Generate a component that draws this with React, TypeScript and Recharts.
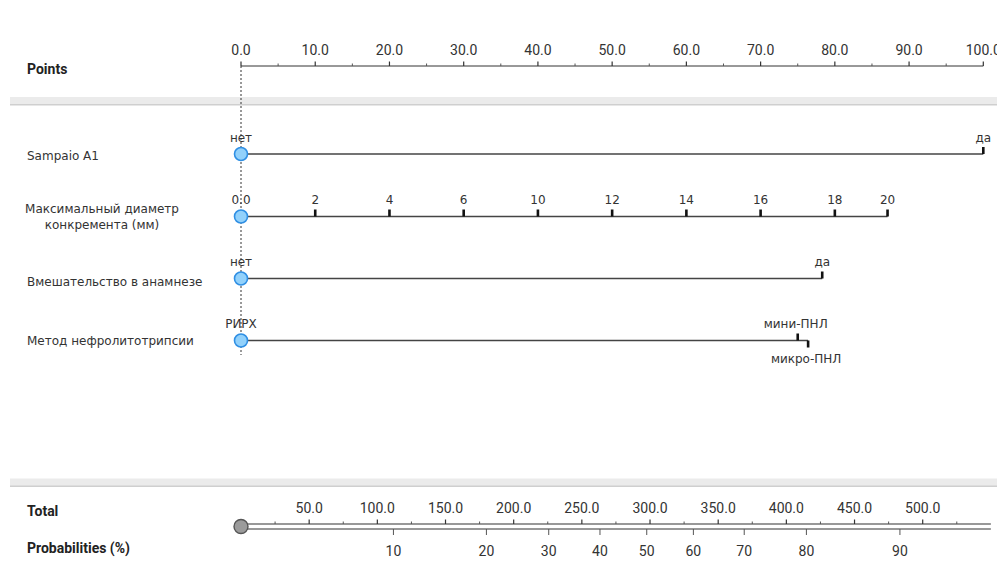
import { ScatterChart, Scatter, XAxis, YAxis, ReferenceArea } from 'recharts';

// nomogram scale (points)
const pointTicks = [0, 10, 20, 30, 40, 50, 60, 70, 80, 90, 100];
const pointMinorTicks = [5, 15, 25, 35, 45, 55, 65, 75, 85, 95];

// predictors: level labels and their points
const sampaioLevels = ['нет', 'да'];
const sampaioPoints = [0, 100];

const diameterLevels = ['0.0', '2', '4', '6', '10', '12', '14', '16', '18', '20'];
const diameterPoints = [0, 10, 20, 30, 40, 50, 60, 70, 80, 87.1];

const historyLevels = ['нет', 'да'];
const historyPoints = [0, 78.3];

const methodLevels = ['РИРХ', 'мини-ПНЛ', 'микро-ПНЛ'];
const methodPoints = [0, 75.0, 76.4];

// total points scale
const totalTicks = [50, 100, 150, 200, 250, 300, 350, 400, 450, 500];
const totalMinorTicks = [25, 75, 125, 175, 225, 275, 325, 375, 425, 475, 525];
const totalRange = [0, 550];

// probability (%) and the total points where it is reached
const probLevels = [10, 20, 30, 40, 50, 60, 70, 80, 90];
const probTotals = [111.8, 180.0, 225.7, 263.3, 297.6, 331.8, 369.1, 414.7, 483.3];

const rowLabels = [
    { lines: ['Sampaio A1'], y: 160, anchor: 'start' },
    { lines: ['Максимальный диаметр', 'конкремента (мм)'], y: 213, anchor: 'middle' },
    { lines: ['Вмешательство в анамнезе'], y: 286, anchor: 'start' },
    { lines: ['Метод нефролитотрипсии'], y: 345, anchor: 'start' },
];
const headLabels = [
    { text: 'Points', y: 74 },
    { text: 'Total', y: 516 },
    { text: 'Probabilities (%)', y: 553 },
];

const W = 997;
const H = 563;
const X0 = 241; // pixel of zero points
const PPX = 7.423; // pixels per point
const TPX = 1.3634; // pixels per total point

const LEVEL_FONT = '"DejaVu Sans", Verdana, sans-serif';
const AXIS_FONT = 'Roboto, "Noto Sans", sans-serif';

const toPts = (px: number) => (px - X0) / PPX;

const ROW = { points: 66, sampaio: 154, diameter: 216.5, history: 278.5, method: 340.5, total: 524, prob: 529 };

const rowData = (levels: string[], pts: number[], y: number) =>
    levels.map((label, idx) => ({ x: pts[idx], y, label, idx }));

const LevelMark = (props: any) => {
    const { cx, cy, payload } = props;
    const down = payload.label === 'микро-ПНЛ';
    return (
        <g>
            {payload.idx === 0 ? (
                <circle cx={cx} cy={cy} r={6.5} fill="#92d1fb" stroke="#2f8fe4" strokeWidth={1.6} />
            ) : (
                <rect x={cx - 1.3} y={down ? cy : cy - 7} width={2.6} height={7} fill="#111" />
            )}
            <text
                x={down ? cx - 2 : payload.label === 'мини-ПНЛ' ? cx - 2 : cx}
                y={down ? cy + 22 : cy - 12.5}
                textAnchor="middle"
                fontFamily={LEVEL_FONT}
                fontSize={12}
                fill="#333"
            >
                {payload.label}
            </text>
        </g>
    );
};

const AxisTick = (props: any) => {
    const { cx, cy, payload } = props;
    return (
        <g>
            <line x1={cx} x2={cx} y1={cy} y2={cy - 4.5} stroke="#333" strokeWidth={1.2} />
            <text x={cx} y={cy - 11} textAnchor="middle" fontFamily={AXIS_FONT} fontSize={14} fill="#333">
                {payload.label}
            </text>
        </g>
    );
};

const MinorTick = (props: any) => {
    const { cx, cy } = props;
    return <line x1={cx} x2={cx} y1={cy} y2={cy - 2.5} stroke="#555" strokeWidth={1} />;
};

const ProbTick = (props: any) => {
    const { cx, cy, payload } = props;
    return (
        <g>
            <line x1={cx} x2={cx} y1={cy} y2={cy + 6} stroke="#555" strokeWidth={1} />
            <text x={cx} y={cy + 27} textAnchor="middle" fontFamily={AXIS_FONT} fontSize={14} fill="#333">
                {payload.label}
            </text>
        </g>
    );
};

const Nothing = () => <g />;

const RowLabel = (props: any) => {
    const { cx, cy, payload } = props;
    return (
        <text x={payload.anchor === 'middle' ? cx + 75 : cx} y={cy} textAnchor={payload.anchor} fontFamily={LEVEL_FONT} fontSize={12} fill="#333">
            {payload.lines.map((l: string, i: number) => (
                <tspan key={i} x={payload.anchor === 'middle' ? cx + 75 : cx} dy={i === 0 ? 0 : 16}>
                    {l}
                </tspan>
            ))}
        </text>
    );
};

const HeadLabel = (props: any) => {
    const { cx, cy, payload } = props;
    return (
        <text x={cx} y={cy} fontFamily={AXIS_FONT} fontSize={14} fontWeight={700} fill="#222">
            {payload.text}
        </text>
    );
};

const TotalDot = (props: any) => {
    const { cx, cy } = props;
    return <circle cx={cx} cy={cy + 2.5} r={7} fill="#9b9b9b" stroke="#555" strokeWidth={1.4} />;
};

export default function App() {
    const pointsMajor = pointTicks.map((v) => ({ x: v, y: ROW.points, label: v.toFixed(1) }));
    const pointsMinor = pointMinorTicks.map((v) => ({ x: v, y: ROW.points }));
    const totalMajor = totalTicks.map((v) => ({ x: v, y: ROW.total, label: v.toFixed(1) }));
    const totalMinor = totalMinorTicks.map((v) => ({ x: v, y: ROW.total }));
    const probData = probLevels.map((p, i) => ({ x: probTotals[i], y: ROW.prob, label: String(p) }));
    const labelX = toPts(27);

    const lineStyle = { stroke: '#444', strokeWidth: 1.5 };

    return (
        <div style={{ position: 'absolute', left: 0, top: 0, width: W, height: H, background: '#fff' }}>
            <ScatterChart width={W} height={H} margin={{ top: 0, right: 0, bottom: 0, left: 0 }}>
                <XAxis xAxisId="pts" type="number" dataKey="x" hide domain={[toPts(0), toPts(W)]} allowDataOverflow />
                <XAxis xAxisId="tot" type="number" dataKey="x" hide domain={[-X0 / TPX, (W - X0) / TPX]} allowDataOverflow />
                <YAxis type="number" dataKey="y" hide domain={[0, H]} reversed allowDataOverflow />

                <ReferenceArea xAxisId="pts" x1={toPts(10)} x2={toPts(W)} y1={97} y2={105} fill="#ebebeb" fillOpacity={1} stroke="none" />
                <ReferenceArea xAxisId="pts" x1={toPts(10)} x2={toPts(W)} y1={104} y2={105.5} fill="#cfcfcf" fillOpacity={1} stroke="none" />
                <ReferenceArea xAxisId="pts" x1={toPts(10)} x2={toPts(W)} y1={478.5} y2={486.5} fill="#ebebeb" fillOpacity={1} stroke="none" />
                <ReferenceArea xAxisId="pts" x1={toPts(10)} x2={toPts(W)} y1={485.5} y2={487} fill="#cfcfcf" fillOpacity={1} stroke="none" />

                <Scatter
                    xAxisId="pts"
                    data={[{ x: 0, y: ROW.points }, { x: 0, y: 355 }]}
                    line={{ stroke: '#333', strokeWidth: 1, strokeDasharray: '2 2' }}
                    shape={Nothing}
                    isAnimationActive={false}
                />

                <Scatter
                    xAxisId="pts"
                    data={[{ x: 0, y: ROW.points }, { x: 100, y: ROW.points }]}
                    line={{ stroke: '#333', strokeWidth: 1 }}
                    shape={Nothing}
                    isAnimationActive={false}
                />
                <Scatter xAxisId="pts" data={pointsMinor} shape={MinorTick} isAnimationActive={false} />
                <Scatter xAxisId="pts" data={pointsMajor} shape={AxisTick} isAnimationActive={false} />

                <Scatter xAxisId="pts" data={rowData(sampaioLevels, sampaioPoints, ROW.sampaio)} line={lineStyle} shape={LevelMark} isAnimationActive={false} />
                <Scatter xAxisId="pts" data={rowData(diameterLevels, diameterPoints, ROW.diameter)} line={lineStyle} shape={LevelMark} isAnimationActive={false} />
                <Scatter xAxisId="pts" data={rowData(historyLevels, historyPoints, ROW.history)} line={lineStyle} shape={LevelMark} isAnimationActive={false} />
                <Scatter xAxisId="pts" data={rowData(methodLevels, methodPoints, ROW.method)} line={lineStyle} shape={LevelMark} isAnimationActive={false} />

                <Scatter
                    xAxisId="tot"
                    data={[{ x: totalRange[0], y: ROW.total }, { x: totalRange[1], y: ROW.total }]}
                    line={{ stroke: '#333', strokeWidth: 1.2 }}
                    shape={Nothing}
                    isAnimationActive={false}
                />
                <Scatter
                    xAxisId="tot"
                    data={[{ x: totalRange[0], y: ROW.prob }, { x: totalRange[1], y: ROW.prob }]}
                    line={{ stroke: '#333', strokeWidth: 1.2 }}
                    shape={Nothing}
                    isAnimationActive={false}
                />
                <Scatter xAxisId="tot" data={totalMinor} shape={MinorTick} isAnimationActive={false} />
                <Scatter xAxisId="tot" data={totalMajor} shape={AxisTick} isAnimationActive={false} />
                <Scatter xAxisId="tot" data={probData} shape={ProbTick} isAnimationActive={false} />
                <Scatter xAxisId="tot" data={[{ x: 0, y: ROW.total }]} shape={TotalDot} isAnimationActive={false} />

                <Scatter
                    xAxisId="pts"
                    data={rowLabels.map((r) => ({ x: labelX, y: r.y, lines: r.lines, anchor: r.anchor }))}
                    shape={RowLabel}
                    isAnimationActive={false}
                />
                <Scatter
                    xAxisId="pts"
                    data={headLabels.map((h) => ({ x: labelX, y: h.y, text: h.text }))}
                    shape={HeadLabel}
                    isAnimationActive={false}
                />
            </ScatterChart>
        </div>
    );
}
